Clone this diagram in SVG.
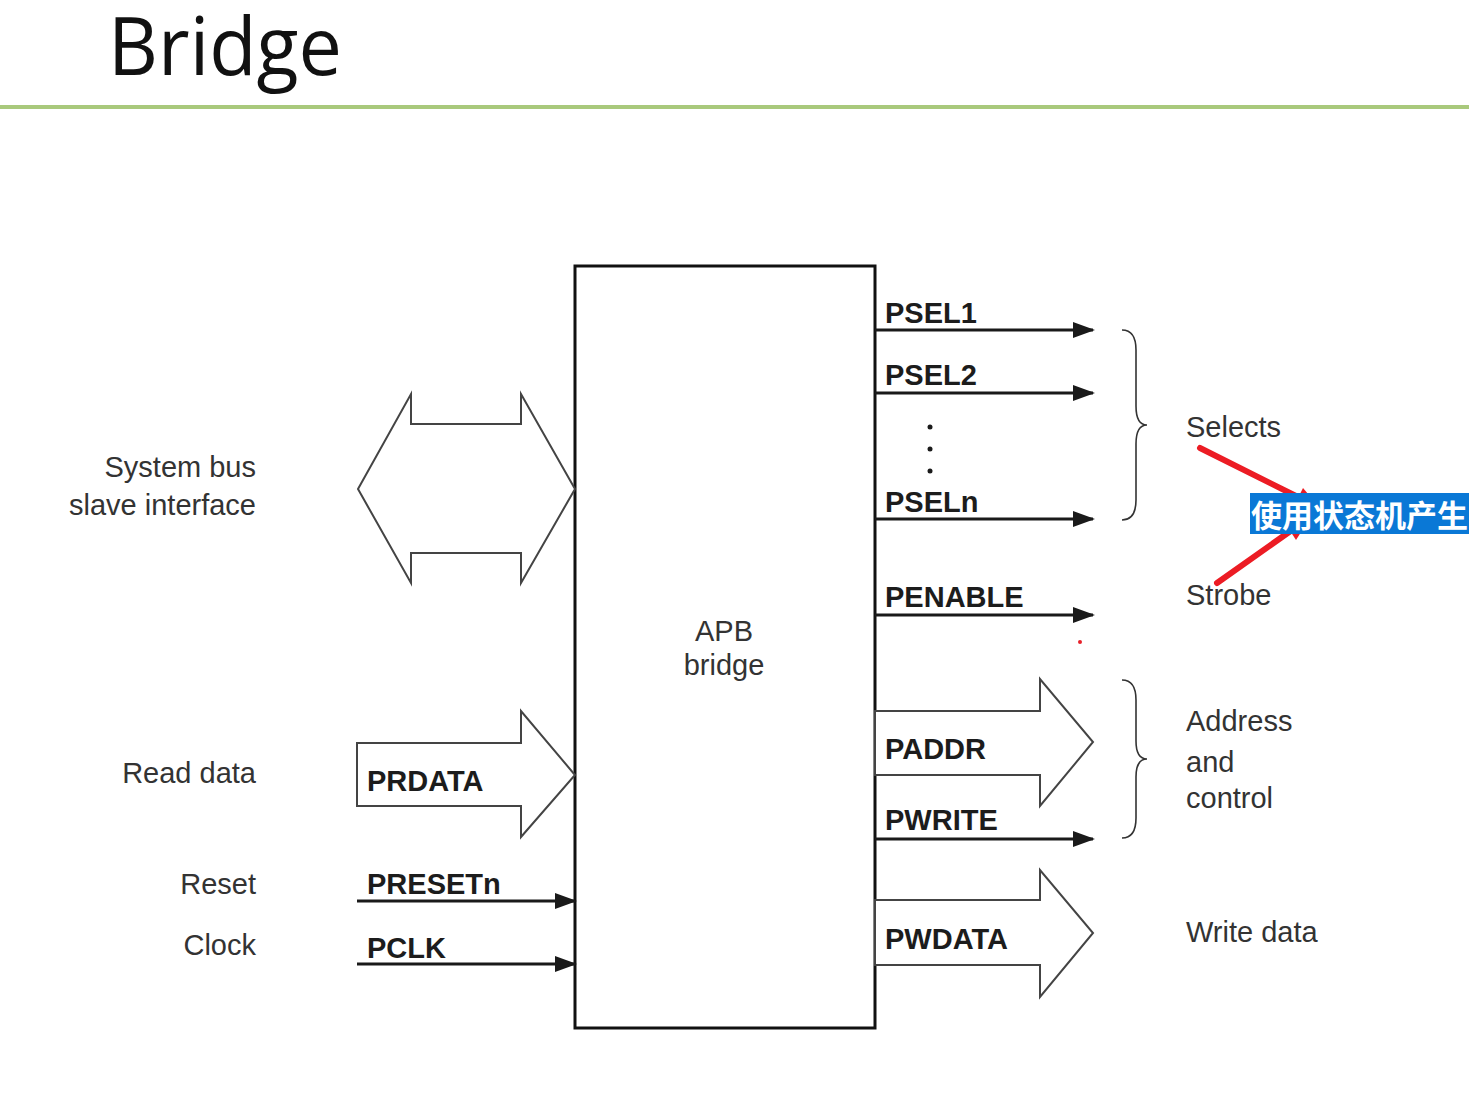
<svg xmlns="http://www.w3.org/2000/svg" width="1469" height="1120" viewBox="0 0 1469 1120">
<style>
.lbl{font-family:"Liberation Sans",Arial,sans-serif;font-size:29px;fill:#333}
.sig{font-family:"Liberation Sans",Arial,sans-serif;font-size:29px;font-weight:bold;fill:#1c1c1c}
.wire{stroke:#1a1a1a;stroke-width:3;fill:none}
.hollow{fill:#fff;stroke:#444;stroke-width:2;stroke-linejoin:miter}
.brace{fill:none;stroke:#333;stroke-width:1.6}
.red{stroke:#ec1c24;stroke-width:6;stroke-linecap:round;fill:none}
</style>
<defs>
<marker id="ah" markerWidth="22" markerHeight="16" refX="20" refY="8" orient="auto" markerUnits="userSpaceOnUse">
<path d="M0,0 L22,8 L0,16 Z" fill="#1a1a1a"/>
</marker>
</defs>
<rect width="1469" height="1120" fill="#fff"/>
<g id="title">
<text x="108" y="75" font-family="'Open Sans','Noto Sans',sans-serif" font-size="81" fill="#111" textLength="234" lengthAdjust="spacingAndGlyphs">Bridge</text>
<rect x="0" y="105" width="1469" height="4" fill="#a9c97c"/>
</g>
<g id="apb-bridge">
<rect x="575" y="266" width="300" height="762" fill="#fff" stroke="#111" stroke-width="3"/>
<text class="lbl" x="724" y="641" text-anchor="middle">APB</text>
<text class="lbl" x="724" y="675" text-anchor="middle">bridge</text>
</g>
<g id="system-bus">
<polygon class="hollow" points="358,489 411,394 411,424 521,424 521,394 575,489 521,583 521,553 411,553 411,583"/>
<text class="lbl" x="256" y="477" text-anchor="end">System bus</text>
<text class="lbl" x="256" y="515" text-anchor="end">slave interface</text>
</g>
<g id="read-data">
<polygon class="hollow" points="357,743 521,743 521,711 575,775 521,837 521,806 357,806"/>
<text class="sig" x="367" y="791">PRDATA</text>
<text class="lbl" x="256" y="783" text-anchor="end">Read data</text>
</g>
<g id="reset">
<text class="lbl" x="256" y="894" text-anchor="end">Reset</text>
<text class="sig" x="367" y="894">PRESETn</text>
</g>
<g id="clock">
<text class="lbl" x="256" y="955" text-anchor="end">Clock</text>
<text class="sig" x="367" y="958">PCLK</text>
</g>
<g id="selects">
<text class="sig" x="885" y="323">PSEL1</text>
<text class="sig" x="885" y="385">PSEL2</text>
<circle cx="930" cy="427" r="2.5" fill="#1a1a1a"/>
<circle cx="930" cy="449" r="2.5" fill="#1a1a1a"/>
<circle cx="930" cy="471" r="2.5" fill="#1a1a1a"/>
<text class="sig" x="885" y="512">PSELn</text>
<path class="brace" d="M1122,330 C1132,330 1136,337 1136,350 L1136,406 C1136,419 1140,425 1147,425 C1140,425 1136,431 1136,444 L1136,500 C1136,513 1132,520 1122,520"/>
<text class="lbl" x="1186" y="437">Selects</text>
</g>
<g id="strobe">
<text class="sig" x="885" y="607">PENABLE</text>
<text class="lbl" x="1186" y="605">Strobe</text>
<circle cx="1080" cy="642" r="2" fill="#e8202a"/>
</g>
<g id="address-control">
<polygon class="hollow" points="875,711 1040,711 1040,679 1093,742 1040,806 1040,775 875,775"/>
<text class="sig" x="885" y="759">PADDR</text>
<text class="sig" x="885" y="830">PWRITE</text>
<path class="brace" d="M1122,680 C1132,680 1136,687 1136,700 L1136,741 C1136,753 1140,759 1147,759 C1140,759 1136,765 1136,777 L1136,818 C1136,831 1132,838 1122,838"/>
<text class="lbl" x="1186" y="731">Address</text>
<text class="lbl" x="1186" y="772">and</text>
<text class="lbl" x="1186" y="808">control</text>
</g>
<g id="write-data">
<polygon class="hollow" points="875,900 1040,900 1040,870 1093,933 1040,997 1040,965 875,965"/>
<text class="sig" x="885" y="949">PWDATA</text>
<text class="lbl" x="1186" y="942">Write data</text>
</g>
<g id="connectors">
<line class="wire" x1="357" y1="901" x2="575" y2="901" marker-end="url(#ah)"/>
<line class="wire" x1="357" y1="964" x2="575" y2="964" marker-end="url(#ah)"/>
<line class="wire" x1="875" y1="330" x2="1093" y2="330" marker-end="url(#ah)"/>
<line class="wire" x1="875" y1="393" x2="1093" y2="393" marker-end="url(#ah)"/>
<line class="wire" x1="875" y1="519" x2="1093" y2="519" marker-end="url(#ah)"/>
<line class="wire" x1="875" y1="615" x2="1093" y2="615" marker-end="url(#ah)"/>
<line class="wire" x1="875" y1="839" x2="1093" y2="839" marker-end="url(#ah)"/>
<line class="red" x1="1200" y1="448" x2="1300" y2="498"/>
<polygon points="1320,508 1294,506 1303,488" fill="#ec1c24"/>
<line class="red" x1="1217" y1="583" x2="1292" y2="530"/>
<polygon points="1310,518 1296,540 1285,523" fill="#ec1c24"/>
</g>
<g id="note">
<rect x="1250" y="493" width="219" height="41" fill="#0a78d6"/>
<text x="1251" y="527" font-family="'Noto Sans CJK SC',sans-serif" font-weight="bold" font-size="31" fill="#fff">使用状态机产生</text>
</g>
</svg>
